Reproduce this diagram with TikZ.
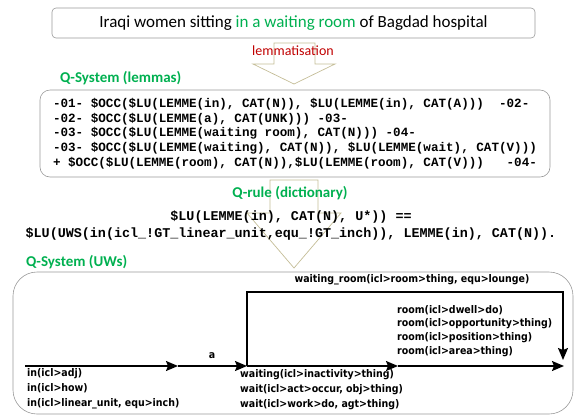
\documentclass[tikz,border=0pt]{standalone}
\usepackage{fontspec}
\setmainfont{Carlito}
\setmonofont{Liberation Mono}
\newfontfamily\uwfont{DejaVu Sans Condensed}
\usepackage{xcolor}
\usepackage{tikz}
\usetikzlibrary{arrows.meta, positioning}
\definecolor{qgreen}{HTML}{00B050}
\definecolor{lemred}{HTML}{C00000}
\definecolor{arrowtan}{HTML}{C4BD97}
\definecolor{boxgray}{HTML}{9A9A9A}

\begin{document}
\begin{tikzpicture}[x=1pt, y=-1pt,
    frame/.style={draw=boxgray, line width=0.6pt},
    heading/.style={font=\bfseries\fontsize{15}{17}\selectfont, color=qgreen},
    code/.style={font=\ttfamily\bfseries\fontsize{12.6}{14.7}\selectfont, align=left},
    blockarrow/.style={draw=arrowtan, line width=0.7pt, line join=miter},
    uwlabel/.style={font=\uwfont\bfseries\fontsize{10.5}{15}\selectfont, align=left, inner sep=0pt},
    uwarrow/.style={-{Stealth[length=12pt, width=10pt, inset=2pt]}, line width=1.6pt}
]
\useasboundingbox (0,0) rectangle (575,416);

% Block arrows
\draw[blockarrow] (274,43) -- (274,64) -- (253,64) -- (294,84) -- (335,64) -- (315,64) -- (315,43) -- cycle;
\draw[blockarrow] (270,180) -- (270,213) -- (247,213) -- (294,268) -- (341,213) -- (318,213) -- (318,180) -- cycle;

% Sentence
\node[frame, rounded corners=4pt, minimum width=483pt, minimum height=30pt, font=\fontsize{17}{20}\selectfont] (sentence) at (293.5,23)
    {Iraqi women sitting \textcolor{qgreen}{in a waiting room} of Bagdad hospital};
\node[font=\fontsize{14}{16}\selectfont, text=lemred] (lemmatisation) at (293,51) {lemmatisation};

% Q-System with lemmas
\node[heading, anchor=west, inner sep=0pt] (qsyslem) at (60,78) {Q-System (lemmas)};
\node[frame, rounded corners=10pt, minimum width=510pt, minimum height=87pt, code] (lemmas) at (295,133.5) {%
-01- \$OCC(\$LU(LEMME(in), CAT(N)), \$LU(LEMME(in), CAT(A)))~~-02-\\
-02- \$OCC(\$LU(LEMME(a), CAT(UNK))) -03-\\
-03- \$OCC(\$LU(LEMME(waiting room), CAT(N))) -04-\\
-03- \$OCC(\$LU(LEMME(waiting), CAT(N)), \$LU(LEMME(wait), CAT(V)))\\
+ \$OCC(\$LU(LEMME(room), CAT(N)),\$LU(LEMME(room), CAT(V)))~~~-04-};

% Q-rule
\node[heading] (qrule) at (290,193) {Q-rule (dictionary)};
\node[code, align=center, font=\ttfamily\bfseries\fontsize{13.4}{17}\selectfont] (rule) at (291,225.5) {%
\$LU(LEMME(in), CAT(N), U*)) ==\\
\$LU(UWS(in(icl\_!GT\_linear\_unit,equ\_!GT\_inch)), LEMME(in), CAT(N)).};

% Q-System with UWs
\node[heading, anchor=west, inner sep=0pt] (qsysuw) at (26,262) {Q-System (UWs)};
\node[frame, rounded corners=24pt, minimum width=560pt, minimum height=142pt] (uwsys) at (293,343) {};

\coordinate (s0) at (25,366);
\coordinate (s1) at (178,366);
\coordinate (s2) at (247,366);
\coordinate (s3) at (398,366);
\coordinate (s4) at (564,366);
\coordinate (loop) at (563,292);
\coordinate (loopend) at (563,360);

\draw[uwarrow] (s0) -- (s1);
\draw[uwarrow] (s1) -- (s2);
\draw[uwarrow] (s2) -- (s3);
\draw[uwarrow] (s3) -- (s4);
\draw[uwarrow] (s2) |- (loop) -- (loopend);

\node[uwlabel, anchor=north west] (inlabels) at (27,368)
    {in(icl>adj)\\in(icl>how)\\in(icl>linear\_unit, equ>inch)};
\node[uwlabel] (alabel) at (212,356) {a};
\node[uwlabel, anchor=north west] (waitlabels) at (240,369)
    {waiting(icl>inactivity>thing)\\wait(icl>act>occur, obj>thing)\\wait(icl>work>do, agt>thing)};
\node[uwlabel, anchor=north west, font=\uwfont\bfseries\fontsize{10.5}{13.8}\selectfont] (roomlabels) at (397,305)
    {room(icl>dwell>do)\\room(icl>opportunity>thing)\\room(icl>position>thing)\\room(icl>area>thing)};
\node[uwlabel] (wroomlabel) at (412,280) {waiting\_room(icl>room>thing, equ>lounge)};

\end{tikzpicture}
\end{document}
